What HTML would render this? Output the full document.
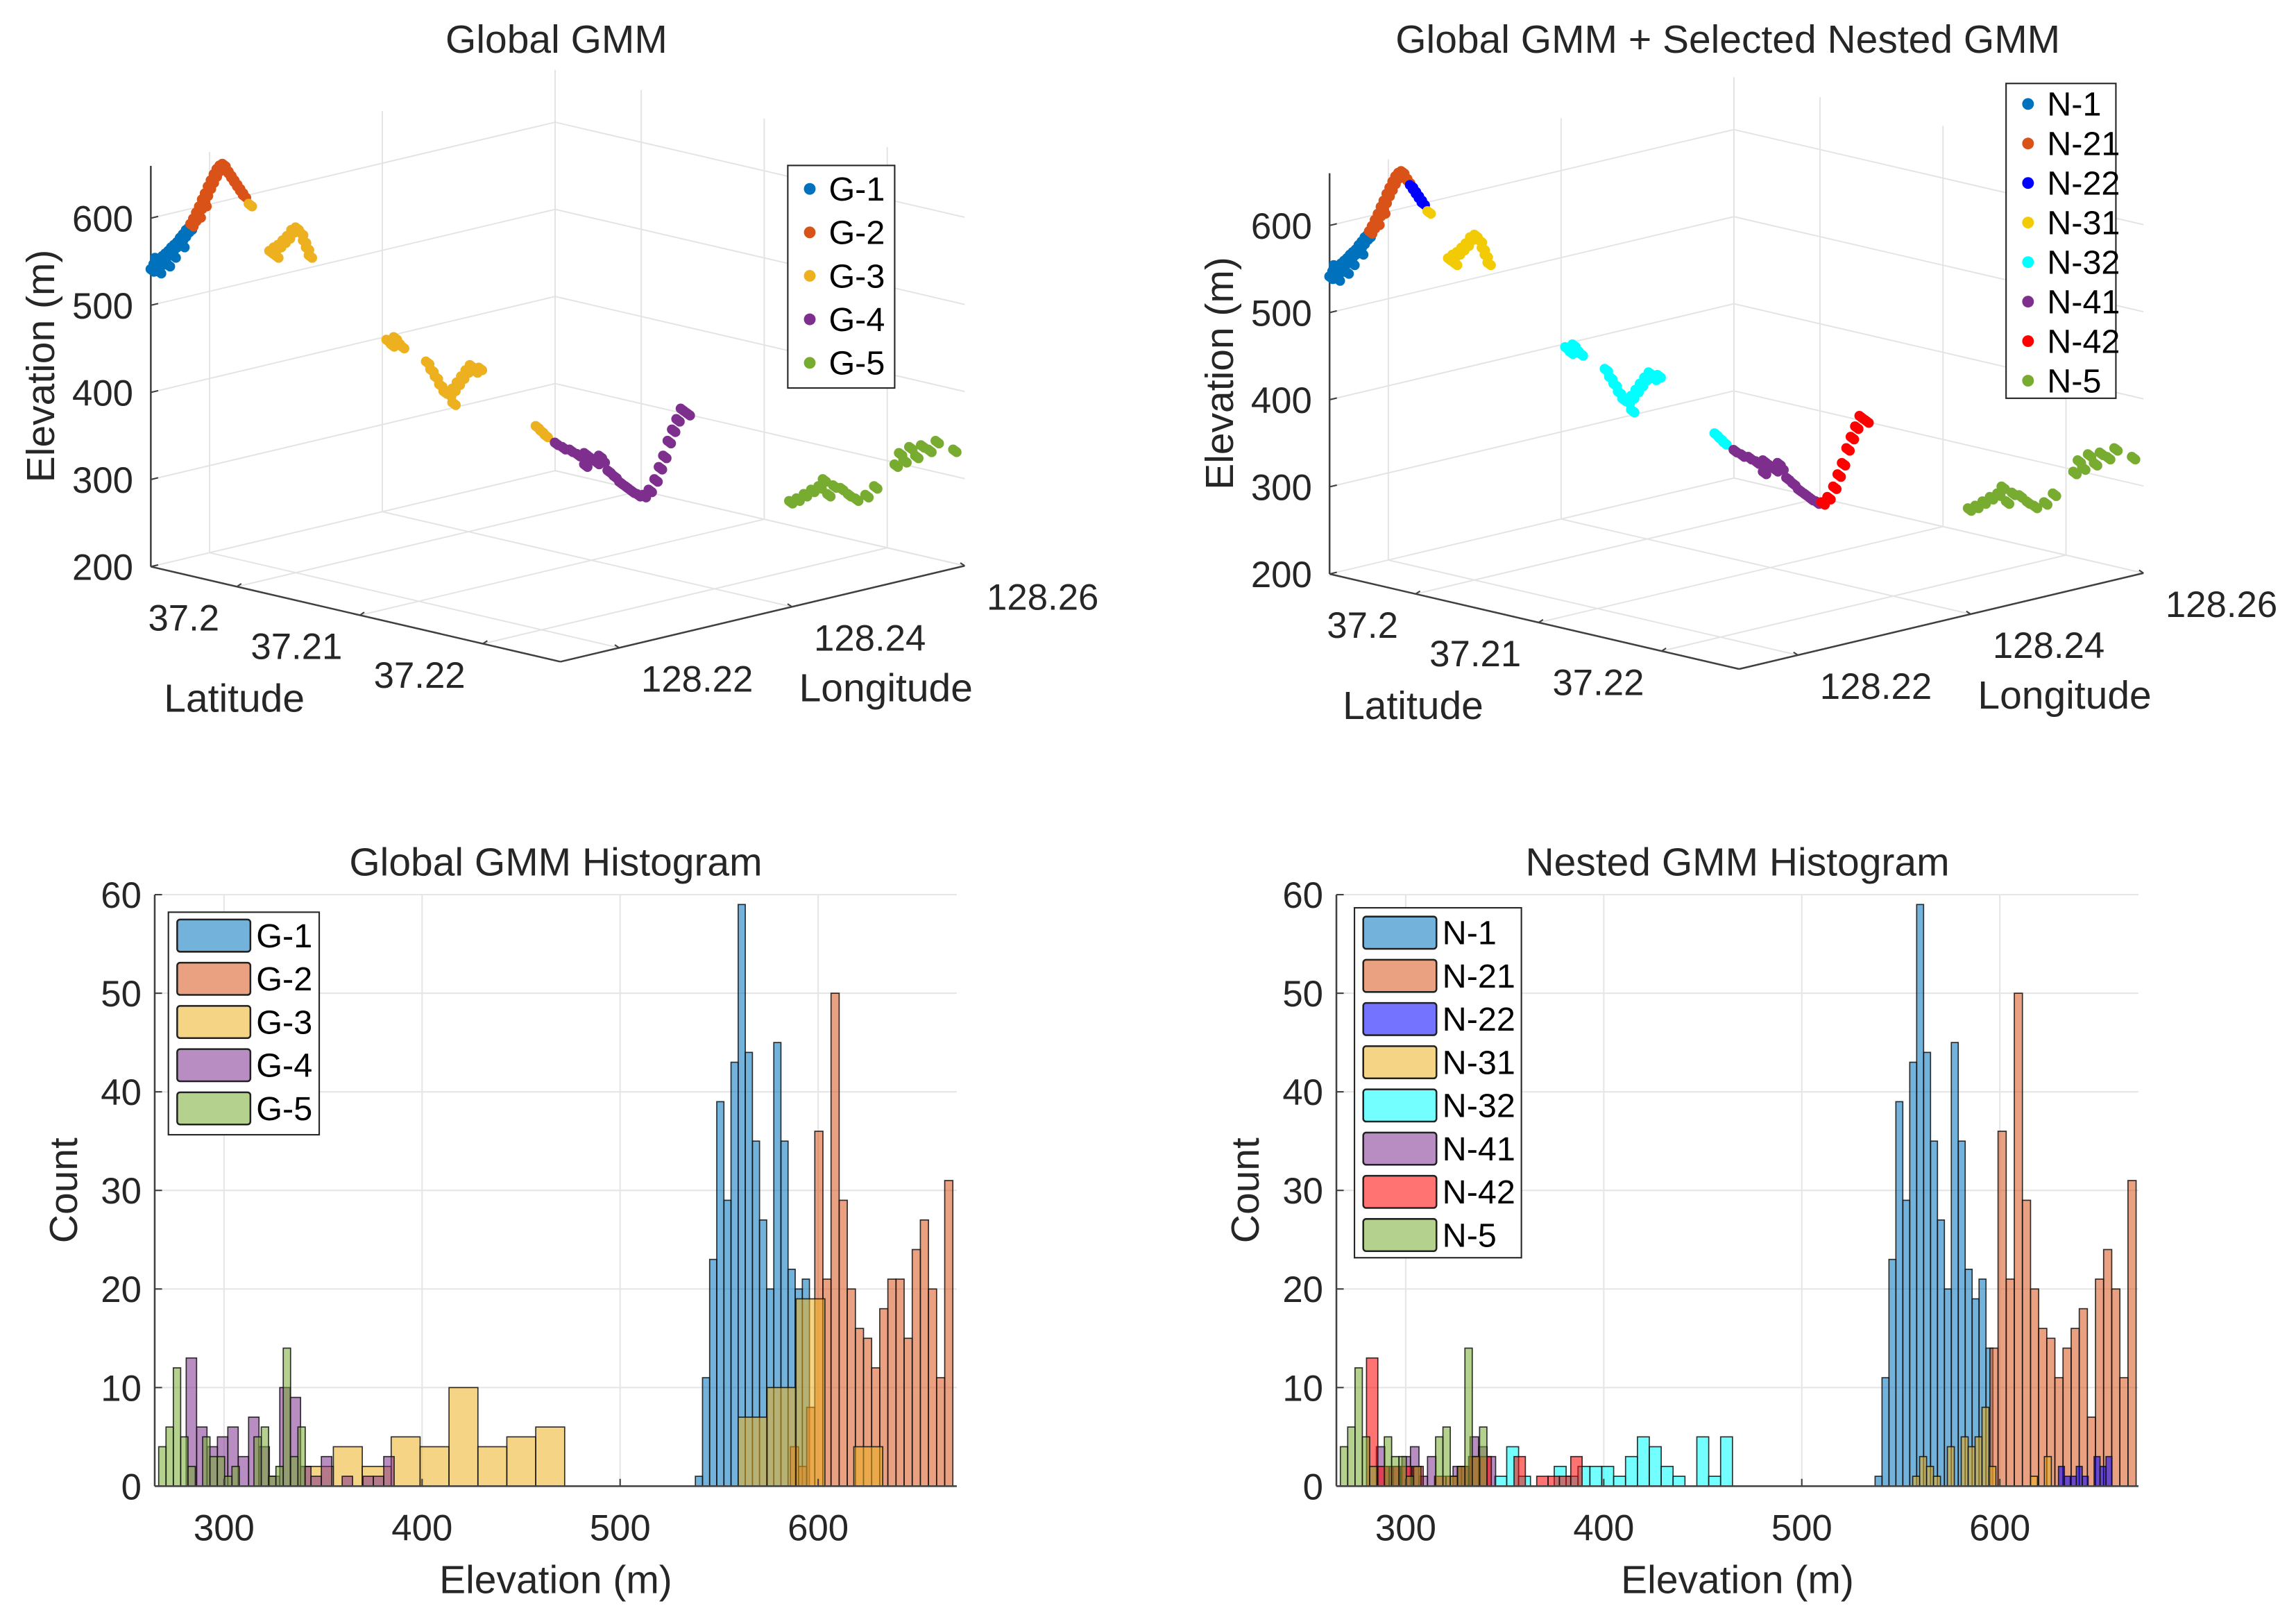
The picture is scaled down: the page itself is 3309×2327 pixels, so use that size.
<!DOCTYPE html>
<html><head><meta charset="utf-8"><style>
html,body{margin:0;padding:0;background:#fff;}
svg{display:block;font-family:"Liberation Sans",Arial,sans-serif;}
</style></head><body>
<svg id="fig" xmlns="http://www.w3.org/2000/svg" width="3309" height="2327" viewBox="0 0 1568 1103" preserveAspectRatio="none">
<rect width="1568" height="1103" fill="#fff"/>
<g id="p1"></g>
<g id="p2"></g>
<g id="p3"></g>
<g id="p4"></g>
</svg>
<script>
// ---------- 3D scatter data ----------
const lat = [37.19306,37.19318,37.19330,37.19342,37.19354,37.19366,37.19378,37.19390,37.19402,37.19414,37.19426,37.19438,37.19451,37.19463,37.19324,37.19360,37.19396,37.19432,37.19336,37.19372,
37.19469,37.19481,37.19493,37.19505,37.19517,37.19529,37.19541,37.19553,37.19565,37.19577,37.19589,37.19601,37.19613,37.19625,37.19637,37.19649,37.19661,37.19673,37.19685,37.19499,37.19523,
37.19709,37.19794,37.19812,37.19830,37.19848,37.19866,37.19884,37.19902,37.19920,37.19932,37.19944,37.19956,37.19818,
37.20275,37.20293,37.20317,37.20335,37.20305,37.20438,37.20456,37.20474,37.20492,37.20510,37.20528,37.20546,37.20564,37.20582,37.20600,37.20618,37.20636,37.20655,37.20546,
37.20889,37.20907,37.20925,
37.20968,37.20998,37.21028,37.21058,37.21088,37.21112,37.21136,37.21160,37.21184,37.21208,37.21232,37.21257,37.21281,37.21305,37.21088,37.21148,
37.21329,37.21353,37.21377,37.21395,37.21413,37.21431,37.21449,37.21467,37.21485,37.21509,
37.21931,37.21961,37.21991,37.22021,37.22051,37.22069,37.22087,37.22111,37.22141,37.22172,37.22202,37.22244,37.22280,37.22364,37.22382,37.22400,37.22424,37.22449,37.22473,37.22503,37.22533,37.22605];
const lon = [128.21328,128.21345,128.21362,128.21379,128.21395,128.21412,128.21429,128.21446,128.21462,128.21479,128.21496,128.21513,128.21530,128.21546,128.21354,128.21404,128.21454,128.21504,128.21370,128.21421,
128.21555,128.21571,128.21588,128.21605,128.21622,128.21638,128.21655,128.21672,128.21689,128.21705,128.21722,128.21739,128.21756,128.21773,128.21789,128.21806,128.21823,128.21840,128.21856,128.21597,128.21630,
128.21890,128.22007,128.22032,128.22057,128.22083,128.22108,128.22133,128.22158,128.22183,128.22200,128.22217,128.22233,128.22041,
128.22678,128.22703,128.22736,128.22761,128.22720,128.22904,128.22929,128.22954,128.22979,128.23004,128.23030,128.23055,128.23080,128.23105,128.23130,128.23155,128.23180,128.23206,128.23055,
128.23532,128.23558,128.23583,
128.23641,128.23683,128.23725,128.23767,128.23809,128.23842,128.23876,128.23909,128.23943,128.23977,128.24010,128.24044,128.24077,128.24111,128.23809,128.23893,
128.24144,128.24178,128.24211,128.24236,128.24261,128.24287,128.24312,128.24337,128.24362,128.24396,
128.24982,128.25024,128.25066,128.25108,128.25150,128.25175,128.25200,128.25233,128.25275,128.25317,128.25359,128.25418,128.25468,128.25585,128.25611,128.25636,128.25669,128.25703,128.25736,128.25778,128.25820,128.25921];
const elev = [540,546,543,551,555,558,561,565,568,571,576,580,585,588,553,548,556,568,538,546,
592,598,605,612,620,627,635,642,649,655,659,661,655,650,645,640,635,630,625,602,615,
615,561,565,568,573,578,585,588,582,573,565,556,556,
459,454,457,452,462,434,425,417,408,400,397,403,410,417,424,430,424,427,387,
360,355,350,
341,336,333,328,329,324,319,321,309,303,296,291,286,282,316,326,
281,287,299,313,326,343,356,368,380,375,
274,277,282,287,291,299,282,292,289,282,277,281,291,316,329,321,336,326,338,333,343,333];
const globalId = [1,1,1,1,1,1,1,1,1,1,1,1,1,1,1,1,1,1,1,1,
2,2,2,2,2,2,2,2,2,2,2,2,2,2,2,2,2,2,2,2,2,
3,3,3,3,3,3,3,3,3,3,3,3,3,
3,3,3,3,3,3,3,3,3,3,3,3,3,3,3,3,3,3,3,
3,3,3,
4,4,4,4,4,4,4,4,4,4,4,4,4,4,4,4,
4,4,4,4,4,4,4,4,4,4,
5,5,5,5,5,5,5,5,5,5,5,5,5,5,5,5,5,5,5,5,5,5];
const nestedId = ["N-1","N-1","N-1","N-1","N-1","N-1","N-1","N-1","N-1","N-1","N-1","N-1","N-1","N-1","N-1","N-1","N-1","N-1","N-1","N-1",
"N-21","N-21","N-21","N-21","N-21","N-21","N-21","N-21","N-21","N-21","N-21","N-21","N-21","N-21","N-22","N-22","N-22","N-22","N-22","N-21","N-21",
"N-31","N-31","N-31","N-31","N-31","N-31","N-31","N-31","N-31","N-31","N-31","N-31","N-31",
"N-32","N-32","N-32","N-32","N-32","N-32","N-32","N-32","N-32","N-32","N-32","N-32","N-32","N-32","N-32","N-32","N-32","N-32","N-32",
"N-32","N-32","N-32",
"N-41","N-41","N-41","N-41","N-41","N-41","N-41","N-41","N-41","N-41","N-41","N-41","N-41","N-41","N-41","N-41",
"N-42","N-42","N-42","N-42","N-42","N-42","N-42","N-42","N-42","N-42",
"N-5","N-5","N-5","N-5","N-5","N-5","N-5","N-5","N-5","N-5","N-5","N-5","N-5","N-5","N-5","N-5","N-5","N-5","N-5","N-5","N-5","N-5"];
const globalNames = ["G-1","G-2","G-3","G-4","G-5"];
const nestedNames = ["N-1","N-21","N-22","N-31","N-32","N-41","N-42","N-5"];
const latTicks = [37.2,37.21,37.22];
const lonTicks = [128.22,128.24,128.26];
const elevTicks = [200,300,400,500,600];

// ---------- histogram data ----------
const histTicksX = [300,400,500,600];
const histTicksY = [0,10,20,30,40,50,60];
const g1Counts = [1,11,23,39,29,43,59,44,35,27,20,45,35,22,20,21];
const g2Counts = [4,2,8,36,21,50,29,20,16,15,12,18,21,21,15,24,27,20,11,31];
const g3Counts = [2,4,2,5,4,10,4,5,6,0,0,0,0,0,0,7,10,19,0,4];
const g4Counts = [13,6,4,5,6,3,7,4,1,10,9,2,1,3,0,1,0,1,1,3];
const g5Counts = [4,6,12,5,2,0,5,3,3,1,2,0,0,5,6,1,2,14,3,6];
const gBinStart = [538,586,340.6,280.9,267];
const gBinWidth = [3.6,4.1,14.6,5.25,3.7];
const n1Counts = [1,11,23,39,29,43,59,44,35,27,20,45,35,22,19,21,14];
const n21Counts = [14,36,21,50,29,20,16,15,11,14,16,18,7,21,24,20,11,31];
const n22Counts = [2,1,1,2,1,0,3,2,3];
const n31Counts = [1,3,2,1,0,4,0,5,4,5,8,2,0,0,0,0,0,1,0,3];
const n32Counts = [1,4,1,0,0,2,1,2,2,2,1,3,5,4,2,1,0,5,1,5];
const n41Counts = [4,2,2,3,4,1,3,0,0,2,2,5,4,3];
const n42Counts = [13,2,2,2,2,0,1,1,2,3,3,0,0,3,0,1,1,1,3];
const n5Counts = [4,6,12,5,2,0,5,3,3,1,2,0,0,5,6,1,2,14,3,6];
const nBinStart = [537,595,629.6,556,345,285.2,280.2,267];
const nBinWidth = [3.5,4.1,3,3.5,6,4.3,5.73,3.7];

const NS="http://www.w3.org/2000/svg";
const gColors={"G-1":"#0072BD","G-2":"#D95319","G-3":"#EDB120","G-4":"#7E2F8E","G-5":"#77AC30",
"N-1":"#0072BD","N-21":"#D95319","N-22":"#0000FF","N-31":"#EDB120","N-32":"#00FFFF","N-41":"#7E2F8E","N-42":"#FF0000","N-5":"#77AC30"};
const sColors=Object.assign({},gColors,{"N-31":"#F2CB05"});
function el(tag,attrs,parent){const e=document.createElementNS(NS,tag);for(const k in attrs)e.setAttribute(k,attrs[k]);parent.appendChild(e);return e;}
function txt(s,attrs,parent){const e=el("text",attrs,parent);e.textContent=s;return e;}

const TICK=25, LABEL=27, TITLE=27, LEG=23;

// ---------- 3D panels ----------
const LAT0=37.193,LAT1=37.2263,LON0=128.2132,LON1=128.26,E0=200,E1=660;
function proj(la,lo,e,ox,oy){const a=(la-LAT0)/0.01,b=(lo-LON0)/0.02,h=(e-200)/100;return [ox+84*a+118*b, oy+19.5*a-28*b-59.5*h];}
function line3(g,p,q,ox,oy,stroke,w){const A=proj(p[0],p[1],p[2],ox,oy),B=proj(q[0],q[1],q[2],ox,oy);return el("line",{x1:A[0],y1:A[1],x2:B[0],y2:B[1],stroke:stroke,"stroke-width":w},g);}
function draw3D(g,ox,oy,title,labelOf,legendNames,leg){
  const grid="#e3e3e3";
  const gg=el("g",{},g);
  
  
  elevTicks.slice(1).forEach(e=>{line3(gg,[LAT0,LON0,e],[LAT0,LON1,e],ox,oy,grid,0.9);line3(gg,[LAT0,LON1,e],[LAT1,LON1,e],ox,oy,grid,0.9);});
  lonTicks.forEach(lo=>{line3(gg,[LAT0,lo,E0],[LAT0,lo,E1],ox,oy,grid,0.9);line3(gg,[LAT0,lo,E0],[LAT1,lo,E0],ox,oy,grid,0.9);});
  latTicks.forEach(la=>{line3(gg,[la,LON1,E0],[la,LON1,E1],ox,oy,grid,0.9);line3(gg,[la,LON0,E0],[la,LON1,E0],ox,oy,grid,0.9);});
  line3(gg,[LAT0,LON1,E0],[LAT0,LON1,E1],ox,oy,grid,0.9);
  line3(gg,[LAT0,LON0,E0],[LAT0,LON1,E0],ox,oy,grid,0.9);
  line3(gg,[LAT0,LON1,E0],[LAT1,LON1,E0],ox,oy,grid,0.9);
  const ax="#404040";
  const za=line3(g,[LAT0,LON0,E0],[LAT0,LON0,E1],ox,oy,ax,1.2);
  
  
  const la=line3(g,[LAT0,LON0,E0],[LAT1,LON0,E0],ox,oy,ax,1.2);
  
  
  const lo=line3(g,[LAT1,LON0,E0],[LAT1,LON1,E0],ox,oy,ax,1.2);
  
  
  elevTicks.forEach(e=>{const P=proj(LAT0,LON0,e,ox,oy);
    el("line",{x1:P[0],y1:P[1],x2:P[0]+5,y2:P[1]-1.2,stroke:ax,"stroke-width":1},g);
    const t=txt(String(e),{x:P[0]-12,y:P[1]+9,"text-anchor":"end","font-size":TICK,fill:"#262626"},g);
    
    });
  latTicks.forEach(v=>{const P=proj(v,LON0,E0,ox,oy);
    el("line",{x1:P[0],y1:P[1],x2:P[0]+3,y2:P[1]-2,stroke:ax,"stroke-width":1},g);
    const t=txt(String(v),{x:P[0]-12,y:P[1]+30,"text-anchor":"end","font-size":TICK,fill:"#262626"},g);
    
    });
  lonTicks.forEach(v=>{const P=proj(LAT1,v,E0,ox,oy);
    el("line",{x1:P[0],y1:P[1],x2:P[0]-3,y2:P[1]-2,stroke:ax,"stroke-width":1},g);
    const t=txt(String(v),{x:P[0]+15,y:P[1]+30,"text-anchor":"start","font-size":TICK,fill:"#262626"},g);
    
    });
  const O=proj(LAT0,LON0,E0,ox,oy);
  let t=txt("Latitude",{x:O[0]+57,y:O[1]+99,"text-anchor":"middle","font-size":LABEL,fill:"#262626"},g);
  
  
  t=txt("Longitude",{x:O[0]+502,y:O[1]+92,"text-anchor":"middle","font-size":LABEL,fill:"#262626"},g);
  
  
  t=txt("Elevation (m)",{x:0,y:0,"text-anchor":"middle","font-size":LABEL,fill:"#262626",transform:`translate(${O[0]-66},${O[1]-137}) rotate(-90)`},g);
  
  
  t=txt(title,{x:O[0]+277+(leg.tx||0),y:36,"text-anchor":"middle","font-size":TITLE,fill:"#262626"},g);
  
  
  const pts=el("g",{},g);
  
  
  for(let i=0;i<lat.length;i++){const P=proj(lat[i],lon[i],elev[i],ox,oy);const lab=labelOf(i);
    for(let k=-1;k<=1;k++){const c=el("circle",{cx:P[0]+k*1.2,cy:P[1]+k*0.9,r:3.4,fill:sColors[lab]},pts);
    
    }}
  const lg=el("g",{},g);
  
  
  el("rect",{x:leg.x,y:leg.y,width:leg.w,height:leg.h,fill:"#fff",stroke:"#262626","stroke-width":1},lg);
  legendNames.forEach((n,i)=>{const yy=leg.y+leg.first+i*leg.step;
    const c=el("circle",{cx:leg.x+15,cy:yy,r:4,fill:sColors[n]},lg);
    
    
    const tt=txt(n,{x:leg.x+28,y:yy+8,"font-size":LEG,fill:"#000"},lg);
    
    });
}
draw3D(document.getElementById("p1"),103,387,"Global GMM",i=>globalNames[globalId[i]-1],globalNames,{x:538,y:113,w:73,h:152,first:16,step:29.7,tx:0});
draw3D(document.getElementById("p2"),908,392,"Global GMM + Selected Nested GMM",i=>nestedId[i],nestedNames,{x:1370,y:57,w:75,h:215,first:14,step:27,tx:-5});

// ---------- histograms ----------
function drawHist(g,x0,title,seriesCounts,starts,widths,names,leg){
  const xs=v=>x0+(v-300)*1.3525, ys=c=>1015-c*6.733;
  const L=xs(265),R=xs(670);
  histTicksY.forEach(v=>{if(v>0)el("line",{x1:L,y1:ys(v),x2:R,y2:ys(v),stroke:"#e6e6e6","stroke-width":1},g);});
  histTicksX.forEach(v=>el("line",{x1:xs(v),y1:ys(0),x2:xs(v),y2:ys(60),stroke:"#e6e6e6","stroke-width":1},g));
  const bars=el("g",{},g);
  
  
  seriesCounts.forEach((arr,s)=>{arr.forEach((c,i)=>{const a=starts[s]+i*widths[s];
    const r=el("rect",{x:xs(a),y:ys(c),width:xs(a+widths[s])-xs(a),height:ys(0)-ys(c),fill:gColors[names[s]],"fill-opacity":0.55,stroke:"#111","stroke-opacity":0.85,"stroke-width":0.8},bars);
    
    });});
  const ax="#404040";
  el("line",{x1:L,y1:ys(0),x2:R,y2:ys(0),stroke:ax,"stroke-width":1.2},g);
  el("line",{x1:L,y1:ys(0),x2:L,y2:ys(60),stroke:ax,"stroke-width":1.2},g);
  histTicksY.forEach(v=>{el("line",{x1:L,y1:ys(v),x2:L+5,y2:ys(v),stroke:ax,"stroke-width":1},g);
    const t=txt(String(v),{x:L-9,y:ys(v)+9,"text-anchor":"end","font-size":TICK,fill:"#262626"},g);
    
    });
  histTicksX.forEach(v=>{el("line",{x1:xs(v),y1:ys(0),x2:xs(v),y2:ys(0)-5,stroke:ax,"stroke-width":1},g);
    const t=txt(String(v),{x:xs(v),y:1052,"text-anchor":"middle","font-size":TICK,fill:"#262626"},g);
    
    });
  let t=txt(title,{x:(L+R)/2,y:598,"text-anchor":"middle","font-size":TITLE,fill:"#262626"},g);
  
  
  t=txt("Elevation (m)",{x:(L+R)/2,y:1088,"text-anchor":"middle","font-size":LABEL,fill:"#262626"},g);
  
  
  t=txt("Count",{x:0,y:0,"text-anchor":"middle","font-size":LABEL,fill:"#262626",transform:`translate(${L-53},813) rotate(-90)`},g);
  
  
  const lg=el("g",{},g);
  
  
  el("rect",{x:leg.x,y:leg.y,width:leg.w,height:leg.h,fill:"#fff",stroke:"#262626","stroke-width":1},lg);
  names.forEach((n,i)=>{const yy=leg.y+leg.first+i*leg.step;
    const p=el("rect",{x:leg.x+6,y:yy-11,width:50,height:22,rx:2,fill:gColors[n],"fill-opacity":0.55,stroke:"#222","stroke-width":1.2},lg);
    
    
    const tt=txt(n,{x:leg.x+60,y:yy+8,"font-size":LEG,fill:"#000"},lg);
    
    });
}
drawHist(document.getElementById("p3"),153,"Global GMM Histogram",[g1Counts,g2Counts,g3Counts,g4Counts,g5Counts],gBinStart,gBinWidth,globalNames,{x:115,y:623,w:103,h:152,first:16,step:29.5});
drawHist(document.getElementById("p4"),960,"Nested GMM Histogram",[n1Counts,n21Counts,n22Counts,n31Counts,n32Counts,n41Counts,n42Counts,n5Counts],nBinStart,nBinWidth,nestedNames,{x:925,y:620,w:114,h:239,first:17,step:29.5});
</script>
</body></html>
